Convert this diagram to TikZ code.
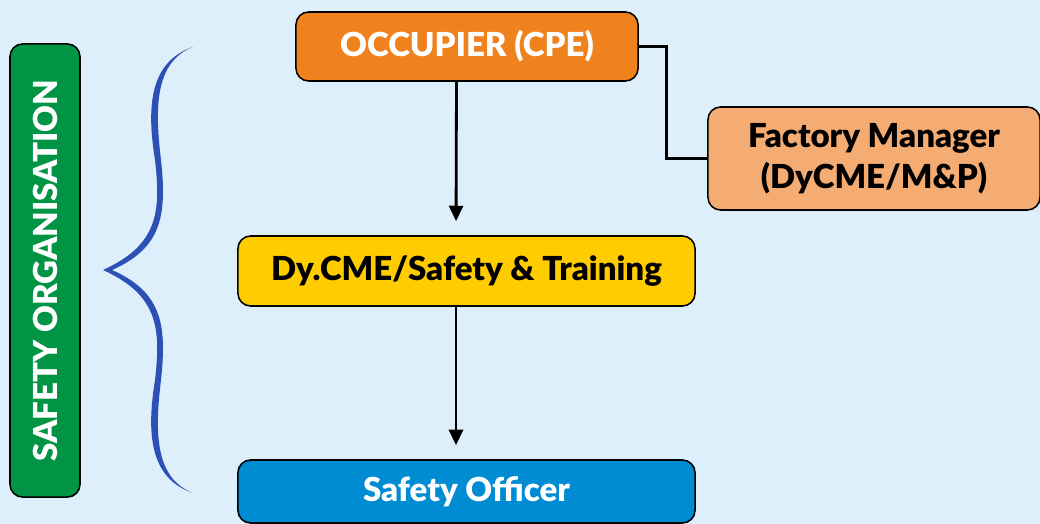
\documentclass[tikz,border=0pt]{standalone}
\usepackage{fontspec}
\setmainfont{Lato}[BoldFont={Lato Black}]
\usepackage{tikz}
\usetikzlibrary{arrows.meta}

\definecolor{bgblue}{RGB}{222,239,252}
\definecolor{occorange}{RGB}{240,130,30}
\definecolor{fmorange}{RGB}{245,172,115}
\definecolor{dyyellow}{RGB}{255,204,0}
\definecolor{soblue}{RGB}{0,140,210}
\definecolor{orggreen}{RGB}{0,148,68}
\definecolor{bracecol}{RGB}{45,80,180}

\tikzset{
    post/.style={draw=black, line width=1.1pt, rounded corners=9pt, align=center,
        font=\bfseries\fontsize{23.5}{29}\selectfont, inner sep=0pt},
    link/.style={line width=2pt, draw=black},
    down/.style={link, -{Triangle[length=11pt,width=10pt]}}
}

\begin{document}
\begin{tikzpicture}[x=0.025cm,y=-0.025cm]
                \fill[bgblue] (0,0) rectangle (1040,524);
                \useasboundingbox (0,0) rectangle (1040,524);

                \node[post, fill=occorange, text=white, minimum width=8.55cm, minimum height=1.725cm]
                    (occ) at (467,46.5) {OCCUPIER (CPE)};
                \node[post, fill=fmorange, minimum width=8.3cm, minimum height=2.575cm]
                    (fm) at (874,158.5) {Factory Manager\\(DyCME/M\&P)};
                \node[post, fill=dyyellow, minimum width=11.425cm, minimum height=1.75cm]
                    (dy) at (466.5,271) {Dy.CME/Safety \& Training};
                \node[post, fill=soblue, text=white, minimum width=11.425cm, minimum height=1.575cm]
                    (so) at (466.5,491.5) {Safety Officer};
                \node[post, fill=orggreen, text=white, rotate=90, minimum width=11.325cm, minimum height=1.75cm]
                    (org) at (45,270.5) {SAFETY ORGANISATION};

                \draw[link] (occ.east) -- ++(28,0) |- (fm.west);
                \draw[down, shorten >=0.35cm] ([xshift=-0.2625cm]occ.south) -- ([xshift=-0.2625cm]dy.north);
                \draw[down, shorten >=0.35cm] ([xshift=-0.2625cm]dy.south) -- ([xshift=-0.2625cm]so.north);

                \fill[bracecol] (193,47)
                    .. controls (148,62) and (147,110) .. (155,160)
                    .. controls (161,212) and (158,245) .. (103,270)
                    .. controls (158,295) and (161,328) .. (155,380)
                    .. controls (147,430) and (148,478) .. (193,493)
                    .. controls (154,478) and (155,430) .. (161,380)
                    .. controls (167,325) and (162,292) .. (112,270)
                    .. controls (162,248) and (167,215) .. (161,160)
                    .. controls (155,110) and (154,62) .. (193,47) -- cycle;
            \end{tikzpicture}
\end{document}
